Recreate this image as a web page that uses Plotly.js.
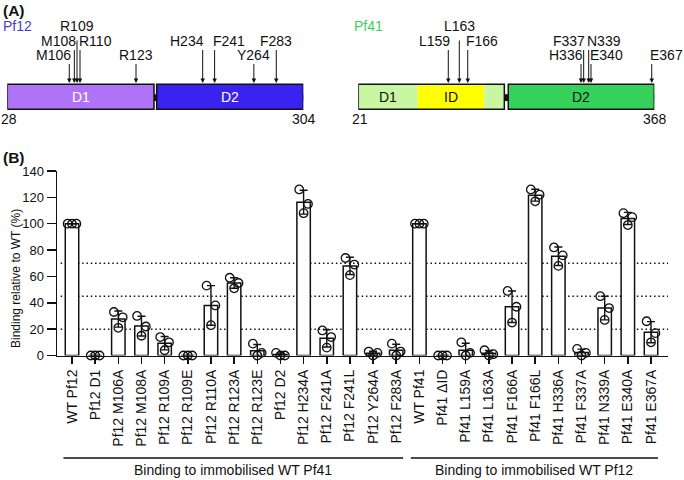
<!DOCTYPE html>
<html>
<head>
<meta charset="utf-8">
<script src="https://cdn.plot.ly/plotly-3.0.1.min.js"></script>
<style>html,body{margin:0;padding:0;background:#fff}#chart{width:684px;height:480px}</style>
</head>
<body>
<div id="chart"></div>
<script>
// ---------------- DATA ----------------
const categories = ['WT Pf12','Pf12 D1','Pf12 M106A','Pf12 M108A','Pf12 R109A','Pf12 R109E','Pf12 R110A','Pf12 R123A','Pf12 R123E','Pf12 D2','Pf12 H234A','Pf12 F241A','Pf12 F241L','Pf12 Y264A','Pf12 F283A','WT Pf41','Pf41 \u0394ID','Pf41 L159A','Pf41 L163A','Pf41 F166A','Pf41 F166L','Pf41 H336A','Pf41 F337A','Pf41 N339A','Pf41 E340A','Pf41 E367A'];
const rep1 = [100,0,33,30,14,0,53,59,9,2,126,19,74,3,9,100,0,10,4,49,126,82,5,45,108,26];
const rep2 = [100,0,29,22,10,0,38,55,2,0,115,14,69,2,3,100,0,2,1,37,122,76,2,36,105,17];
const rep3 = [100,0,21,15,4,0,23,51,0,0,108,6,61,0,0,100,0,0,0,25,117,68,0,27,99,10];
const thresholds = [20,45,70];
const yTicks = [0,20,40,60,80,100,120,140];
const groupLabels = ['Binding to immobilised WT Pf41','Binding to immobilised WT Pf12'];
const groupFirst = [0,15];
const groupLast = [14,25];

// Panel A: schematic domain maps (positions along the drawn schematic)
const pf12Name = 'Pf12', pf41Name = 'Pf41';
const pf12Ends = [28,304];
const pf12Domains = ['D1','D2'];
const pf12DomStart = [28,167.3];
const pf12DomEnd = [164.8,304];
const pf12Sites = ['M106','M108','R109','R110','R123','H234','F241','Y264','F283'];
const pf12SitePos = [85.8,90.5,93.0,95.8,148.0,210.2,221.3,257.9,278.8];
const pf12SiteRow = [2,1,0,1,2,1,1,2,1];
const pf12SiteAlign = ['right','right','center','left','center','right','left','center','center'];

const pf41Ends = [21,368];
const pf41Regions = ['D1','ID','','D2'];
const pf41RegStart = [21,90.6,168.7,196.8];
const pf41RegEnd = [90.6,168.7,192.2,368];
const pf41Boxes = [[21,192.2],[196.8,368]];
const pf41Sites = ['L159','L163','F166','H336','F337','N339','E340','E367'];
const pf41SitePos = [126.5,139.4,149.3,282.1,285.2,291.1,293.8,365];
const pf41SiteRow = [1,0,1,2,1,1,2,2];
const pf41SiteAlign = ['right','center','left','right','right','left','left','left'];

// ---------------- STYLE / LAYOUT HELPERS ----------------
const W = 684, H = 480;
const px = p => p / W;
const py = p => 1 - p / H;
const FONT = 'Arial, "Liberation Sans", Helvetica, sans-serif';
const BLACK = '#111';
const pf12Color = '#4a3ad6', pf41Color = '#3fcf5c';
const pf12DomColors = ['#b072f6', '#3a22f0'];
const pf41RegColors = ['#c9f6a3', '#ffff00', '#c9f6a3', '#35d15a'];

const n = categories.length;
const xs = categories.map((_, i) => i);
const reps = [rep1, rep2, rep3];
const means = xs.map(i => (rep1[i] + rep2[i] + rep3[i]) / 3);
const sds = xs.map(i => {
  const m = means[i];
  const v = reps.reduce((s, r) => s + (r[i] - m) ** 2, 0) / 2;
  return Math.sqrt(v);
});
const jitter = [-0.19, 0.19, 0];

const traces = [];
traces.push({
  type: 'bar', x: xs, y: means, width: 0.58,
  marker: {color: '#fff', line: {color: BLACK, width: 1.5}},
  error_y: {type: 'data', array: sds, visible: true, color: BLACK, thickness: 1.4, width: 4},
  hoverinfo: 'skip', showlegend: false
});
reps.forEach((r, k) => {
  traces.push({
    type: 'scatter', mode: 'markers',
    x: xs.map(i => i + jitter[k]), y: r,
    marker: {symbol: 'circle-open', size: 8.5, color: BLACK, line: {width: 1.3, color: BLACK}},
    hoverinfo: 'skip', showlegend: false, cliponaxis: false
  });
});
// invisible anchors for the schematic axes
traces.push({type: 'scatter', mode: 'lines', x: pf12Ends, y: [0, 0], xaxis: 'x2', yaxis: 'y2', line: {width: 0}, hoverinfo: 'skip', showlegend: false});
traces.push({type: 'scatter', mode: 'lines', x: pf41Ends, y: [0, 0], xaxis: 'x3', yaxis: 'y3', line: {width: 0}, hoverinfo: 'skip', showlegend: false});

const xLeftPx = 57, xRightPx = 668, firstBarPx = 72, lastBarPx = 651;
const unit = (lastBarPx - firstBarPx) / (n - 1);
const xRange = [(xLeftPx - firstBarPx) / unit, (n - 1) + (xRightPx - lastBarPx) / unit];

const shapes = [];
const annotations = [];
function txt(o) { return Object.assign({showarrow: false, xanchor: 'center', yanchor: 'middle', borderpad: 0}, o); }

// threshold dotted lines
thresholds.forEach(t => shapes.push({
  type: 'line', xref: 'x domain', yref: 'y', x0: 0.006, x1: 1, y0: t, y1: t,
  line: {color: BLACK, width: 1.5, dash: '1.5px,2.8px'}, layer: 'below'
}));

// group brackets
groupLabels.forEach((g, k) => {
  const a = groupFirst[k] - 0.37, b = groupLast[k] + 0.3;
  shapes.push({type: 'line', xref: 'x', yref: 'paper', x0: a, x1: b, y0: py(458), y1: py(458), line: {color: BLACK, width: 1.5}});
  annotations.push(txt({xref: 'x', yref: 'paper', x: (a + b) / 2, y: py(469.5), text: g, font: {family: FONT, size: 14, color: BLACK}}));
});

// panel labels and axis title
annotations.push(txt({xref: 'paper', yref: 'paper', x: px(1.5), y: py(10.5), xanchor: 'left', text: '<b>(A)</b>', font: {family: FONT, size: 15.5, color: BLACK}}));
annotations.push(txt({xref: 'paper', yref: 'paper', x: px(1.5), y: py(158), xanchor: 'left', text: '<b>(B)</b>', font: {family: FONT, size: 15.5, color: BLACK}}));
annotations.push(txt({xref: 'paper', yref: 'paper', x: px(15.5), y: py(278.5), text: 'Binding relative to WT (%)', textangle: -90, font: {family: FONT, size: 12, color: BLACK}}));

// schematic geometry
const boxTop = py(84.3), boxBot = py(109.3);
const capTop = py(94.3), capBot = py(101);
const rowY = [25.9, 41, 55.3], rowTail = [39, 48.5, 62.5], tipY = 83;

function schematic(xref, domPx, ends, name, nameColor, namePx) {
  const upp = (ends[1] - ends[0]) / (domPx[1] - domPx[0]); // units per pixel
  annotations.push(txt({xref: 'paper', yref: 'paper', x: px(namePx), y: py(26.5), xanchor: 'left', text: name, font: {family: FONT, size: 14, color: nameColor}}));
  shapes.push({type: 'rect', xref, yref: 'paper', x0: ends[0] - 4.5 * upp, x1: ends[0], y0: capBot, y1: capTop, fillcolor: BLACK, line: {width: 0}});
  shapes.push({type: 'rect', xref, yref: 'paper', x0: ends[1], x1: ends[1] + 4 * upp, y0: capBot, y1: capTop, fillcolor: BLACK, line: {width: 0}});
  annotations.push(txt({xref, yref: 'paper', x: ends[0], y: py(119), text: String(ends[0]), xshift: 2, font: {family: FONT, size: 14, color: BLACK}}));
  annotations.push(txt({xref, yref: 'paper', x: ends[1], y: py(119), text: String(ends[1]), xshift: 1, font: {family: FONT, size: 14, color: BLACK}}));
  return upp;
}

// Pf12
schematic('x2', [7.3, 303.3], pf12Ends, pf12Name, pf12Color, 1.5);
shapes.push({type: 'rect', xref: 'x2', yref: 'paper', x0: pf12DomEnd[0], x1: pf12DomStart[1], y0: capBot, y1: capTop, fillcolor: BLACK, line: {width: 0}});
pf12Domains.forEach((d, k) => {
  shapes.push({type: 'rect', xref: 'x2', yref: 'paper', x0: pf12DomStart[k], x1: pf12DomEnd[k], y0: boxBot, y1: boxTop, fillcolor: pf12DomColors[k], line: {color: BLACK, width: 1.5}});
  annotations.push(txt({xref: 'x2', yref: 'paper', x: (pf12DomStart[k] + pf12DomEnd[k]) / 2, y: (boxTop + boxBot) / 2, text: d, font: {family: FONT, size: 14, color: '#fff'}}));
});
// Pf41
schematic('x3', [358.3, 654.3], pf41Ends, pf41Name, pf41Color, 352.5);
shapes.push({type: 'rect', xref: 'x3', yref: 'paper', x0: pf41Boxes[0][1], x1: pf41Boxes[1][0], y0: capBot, y1: capTop, fillcolor: BLACK, line: {width: 0}});
pf41Regions.forEach((d, k) => {
  shapes.push({type: 'rect', xref: 'x3', yref: 'paper', x0: pf41RegStart[k], x1: pf41RegEnd[k], y0: boxBot, y1: boxTop, fillcolor: pf41RegColors[k], line: {width: 0}});
  if (d) annotations.push(txt({xref: 'x3', yref: 'paper', x: (pf41RegStart[k] + pf41RegEnd[k]) / 2, y: (boxTop + boxBot) / 2, text: d, font: {family: FONT, size: 14, color: BLACK}}));
});
pf41Boxes.forEach(b => shapes.push({type: 'rect', xref: 'x3', yref: 'paper', x0: b[0], x1: b[1], y0: boxBot, y1: boxTop, fillcolor: 'rgba(0,0,0,0)', line: {color: BLACK, width: 1.5}}));

function sites(xref, labels, pos, rows, align) {
  labels.forEach((s, k) => {
    const r = rows[k];
    annotations.push({xref, yref: 'paper', x: pos[k], y: py(tipY), ax: 0, ay: -(tipY - rowTail[r]), text: '', showarrow: true, arrowhead: 2, arrowsize: 0.9, arrowwidth: 1, arrowcolor: BLACK, standoff: 0, startstandoff: 0});
    annotations.push(txt({xref, yref: 'paper', x: pos[k], y: py(rowY[r]), text: s, xanchor: align[k], xshift: align[k] === 'right' ? 2.5 : (align[k] === 'left' ? -2.5 : 0), font: {family: FONT, size: 14, color: BLACK}}));
  });
}
sites('x2', pf12Sites, pf12SitePos, pf12SiteRow, pf12SiteAlign);
sites('x3', pf41Sites, pf41SitePos, pf41SiteRow, pf41SiteAlign);

const layout = {
  width: W, height: H,
  margin: {l: 0, r: 0, t: 0, b: 0},
  paper_bgcolor: '#fff', plot_bgcolor: 'rgba(0,0,0,0)',
  showlegend: false, bargap: 0.4,
  font: {family: FONT, color: BLACK},
  xaxis: {
    domain: [px(xLeftPx), px(xRightPx)], range: xRange, anchor: 'y',
    tickvals: xs, ticktext: categories, tickangle: -90,
    ticks: 'outside', ticklen: 7, tickwidth: 1.5, tickcolor: BLACK,
    showline: true, linewidth: 1.5, linecolor: BLACK, showgrid: false, zeroline: false,
    tickfont: {family: FONT, size: 14, color: BLACK}, fixedrange: true
  },
  yaxis: {
    domain: [py(355.5), py(171)], range: [0, 140], anchor: 'x',
    tickvals: yTicks, ticks: 'outside', ticklen: 9, tickwidth: 1.5, tickcolor: BLACK,
    showline: true, linewidth: 1.5, linecolor: BLACK, showgrid: false, zeroline: false,
    tickfont: {family: FONT, size: 13, color: BLACK}, fixedrange: true
  },
  xaxis2: {domain: [px(7.3), px(303.3)], range: pf12Ends, anchor: 'y2', visible: false, fixedrange: true},
  yaxis2: {domain: [py(130), py(0)], range: [-1, 1], anchor: 'x2', visible: false, fixedrange: true},
  xaxis3: {domain: [px(358.3), px(654.3)], range: pf41Ends, anchor: 'y3', visible: false, fixedrange: true},
  yaxis3: {domain: [py(130), py(0)], range: [-1, 1], anchor: 'x3', visible: false, fixedrange: true},
  shapes, annotations
};

Plotly.newPlot('chart', traces, layout, {staticPlot: true, displayModeBar: false});
</script>
</body>
</html>
